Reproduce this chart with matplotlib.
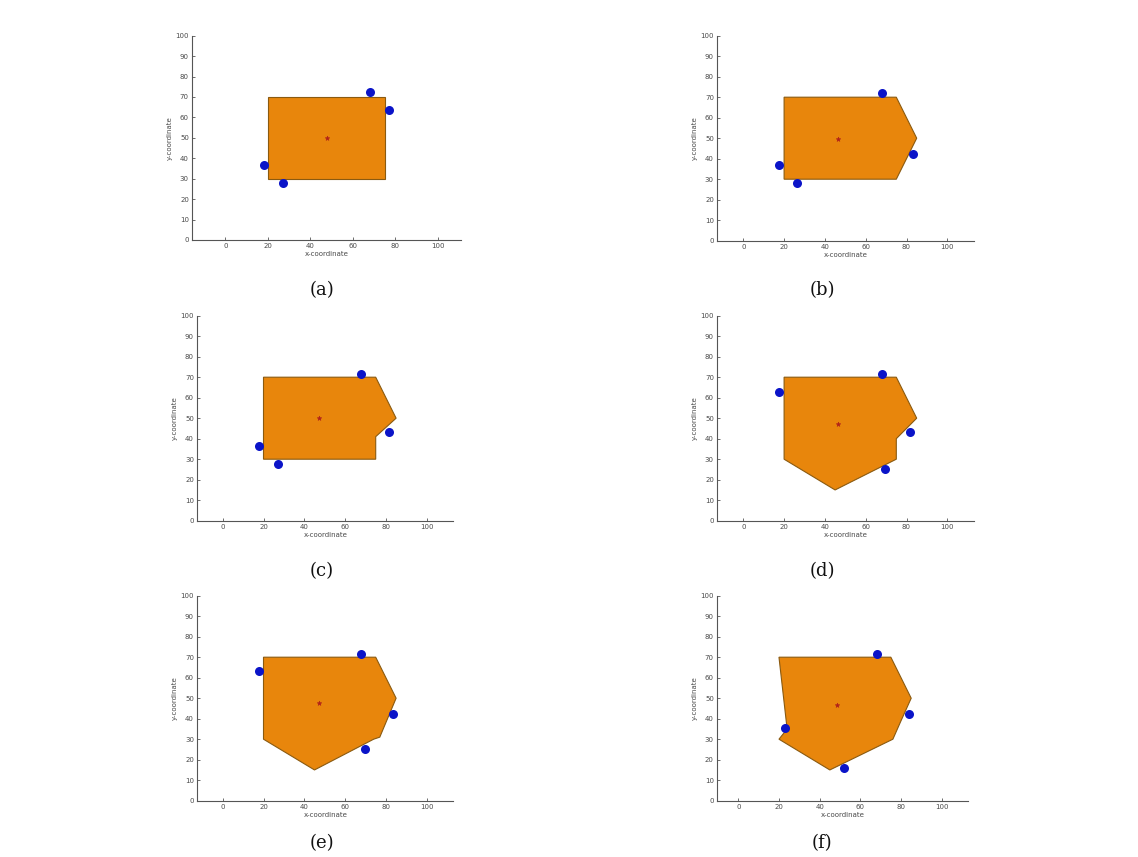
import matplotlib
matplotlib.use('Agg')
import matplotlib.pyplot as plt
from matplotlib.patches import Polygon

# ── Data ──────────────────────────────────────────────────────────────────────
panel_labels = ['(a)', '(b)', '(c)', '(d)', '(e)', '(f)']

hull_x = [
    [20, 75, 75, 20],
    [20, 75, 85, 75, 20],
    [20, 75, 75, 85, 75, 20],
    [20, 75, 85, 77, 75, 75, 45, 20],
    [20, 75, 85, 77, 74, 45, 20],
    [20, 75, 85, 80, 76, 45, 20, 24],
]
hull_y = [
    [30, 30, 70, 70],
    [30, 30, 50, 70, 70],
    [30, 30, 41, 50, 70, 70],
    [70, 70, 50, 42, 40, 30, 15, 30],
    [70, 70, 50, 31, 30, 15, 30],
    [70, 70, 50, 39, 30, 15, 30, 35],
]

node_x = [
    [18, 27, 68, 77],
    [17.5, 26.5, 68, 83],
    [18, 27, 68, 81.5],
    [17.6, 68, 81.5, 69.6],
    [17.6, 68, 83.3, 69.8],
    [23, 51.8, 68.2, 83.8],
]
node_y = [
    [36.8, 28.1, 72.2, 63.4],
    [36.8, 28.1, 71.9, 42.4],
    [36.5, 27.8, 71.8, 43.3],
    [62.9, 71.8, 43.4, 25.2],
    [63.3, 71.8, 42.2, 25.1],
    [35.5, 15.8, 71.7, 42.1],
]

center_x = [47.7, 46.6, 47.1, 46.3, 47.1, 48.4]
center_y = [50.0, 49.8, 50.1, 47.2, 47.8, 46.8]

x_ticks = [0, 20, 40, 60, 80, 100]
y_ticks = [0, 10, 20, 30, 40, 50, 60, 70, 80, 90, 100]

# ── Layout (pixel positions of each panel in the 1138x857 page) ───────────────
W, H = 1138, 857
# pixel of x=0, px per x unit, pixel of y=0, pixel of y=100, xlim
LAYOUT = [
    (225.3, 2.124, 240.0, 35.7, (-15.5, 111)),
    (743.3, 2.040, 240.7, 35.7, (-12.7, 113)),
    (222.7, 2.040, 520.7, 315.7, (-12.4, 113)),
    (743.3, 2.040, 520.7, 315.7, (-12.7, 113)),
    (222.7, 2.040, 800.7, 595.7, (-12.4, 113)),
    (738.3, 2.034, 800.7, 595.7, (-10.3, 113)),
]
CAPTIONS = [(322, 290), (822, 290), (322, 571), (822, 571), (322, 843), (822, 843)]

FILL = '#e8860c'
EDGE = '#8a5a10'
DOT = '#0b14c8'
AXC = '#555555'
TXT = '#4a4a4a'

fig = plt.figure(figsize=(W / 100, H / 100), dpi=100)
fig.patch.set_facecolor('white')

for i in range(6):
    x0, pxu, y0, y100, xlim = LAYOUT[i]
    left = x0 + xlim[0] * pxu
    right = x0 + xlim[1] * pxu
    ax = fig.add_axes([left / W, 1 - y0 / H, (right - left) / W, (y0 - y100) / H])

    poly = Polygon(list(zip(hull_x[i], hull_y[i])), closed=True,
                   facecolor=FILL, edgecolor=EDGE, linewidth=0.8, zorder=2)
    ax.add_patch(poly)
    ax.plot(node_x[i], node_y[i], 'o', color=DOT, markersize=6.5,
            markeredgewidth=0, zorder=3)
    ax.plot(center_x[i], center_y[i], '*', color='#b0201a', markersize=3.5,
            markeredgewidth=0.4, zorder=4)

    ax.set_xlim(*xlim)
    ax.set_ylim(0, 100)
    ax.set_xticks(x_ticks)
    ax.set_yticks(y_ticks)
    ax.spines[['top', 'right']].set_visible(False)
    for s in ['left', 'bottom']:
        ax.spines[s].set_color(AXC)
        ax.spines[s].set_linewidth(0.8)
    ax.tick_params(direction='in', length=2.5, width=0.6, color=AXC,
                   labelsize=5, labelcolor=TXT, pad=2.5)
    ax.set_xlabel('x-coordinate', fontsize=5, color=TXT, labelpad=1)
    ax.set_ylabel('y-coordinate', fontsize=5, color=TXT, labelpad=2)
    ax.patch.set_alpha(0)

    cx, cy = CAPTIONS[i]
    fig.text(cx / W, 1 - cy / H, panel_labels[i], ha='center', va='center',
             fontsize=13, family='DejaVu Serif', color='#111111')

fig.savefig('out.png', dpi=100, facecolor='white')
